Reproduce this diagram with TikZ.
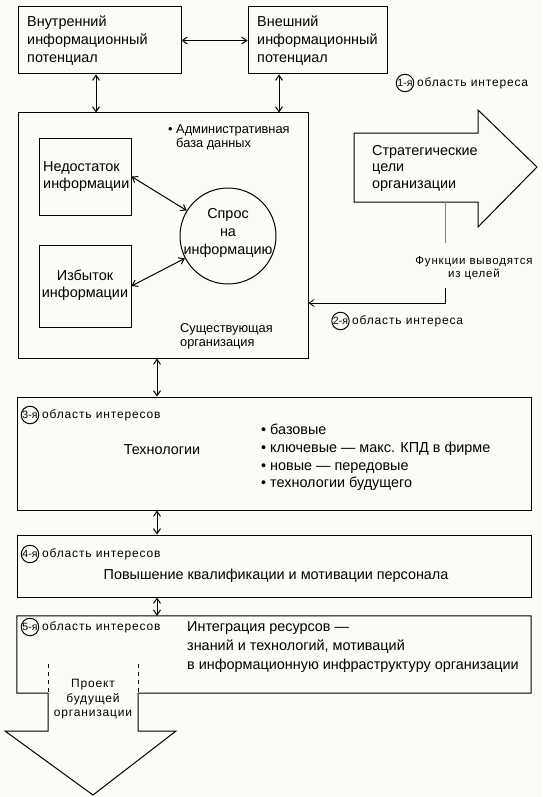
\documentclass[tikz,border=0pt]{standalone}
\usepackage{fontspec}
\setmainfont{Liberation Sans}
\newfontfamily\labfont[LetterSpace=7]{Liberation Sans}
\usetikzlibrary{calc,arrows,arrows.meta}

\definecolor{paper}{RGB}{252,252,246}

\tikzset{
  box/.style={draw, line width=1pt, inner sep=0pt},
  txt/.style={inner sep=0pt, align=left, font=\fontsize{14.4}{18}\selectfont},
  mid/.style={inner sep=0pt, align=left, anchor=west, font=\fontsize{12.8}{13.8}\selectfont},
  lab/.style={inner sep=0pt, anchor=west, font=\labfont\fontsize{12}{13}\selectfont},
  num/.style={draw, circle, line width=1pt, inner sep=0.3pt, minimum size=17pt, font=\fontsize{10.5}{11}\selectfont},
  link/.style={<->, >={Straight Barb[length=5pt,width=7pt]}, line width=1pt}
}

\begin{document}
\begin{tikzpicture}[x=1pt,y=-1pt]
                      \useasboundingbox (0,0) rectangle (542,797);
                      \fill[paper] (0,0) rectangle (542,797);
                      % information potential
                      \node[box, minimum width=163pt, minimum height=67pt] (inner) at (99.5,40.5) {};
                      \node[txt, anchor=west] (innertxt) at (27,41) {Внутренний\\информационный\\потенциал};
                      \node[box, minimum width=139pt, minimum height=67pt] (outer) at (317.5,40.5) {};
                      \node[txt, anchor=west] (outertxt) at (257,41) {Внешний\\информационный\\потенциал};
                      \draw[link] (inner.east) -- (outer.west);
                      \node[num] (n1) at (405,83) {1-я};
                      \node[lab] (n1txt) at (417,83) {область интереса};
                      % existing organization
                      \node[box, minimum width=290pt, minimum height=245pt] (org) at (163,235.5) {};
                      \draw[link] ([xshift=-3.5pt]inner.south) -- ([xshift=-3.5pt]inner.south |- org.north);
                      \draw[link] ([xshift=-38.5pt]outer.south) -- ([xshift=-38.5pt]outer.south |- org.north);
                      \node[mid] (adm) at (168,137.5) {• Административная\\\phantom{• }база данных};
                      \node[box, minimum width=92pt, minimum height=77pt] (lack) at (85,176.5) {};
                      \node[txt, anchor=west, font=\fontsize{14.4}{17}\selectfont] (lacktxt) at (43,176.5) {Недостаток\\информации};
                      \node[box, minimum width=92pt, minimum height=82pt] (excess) at (85,286) {};
                      \node[txt, align=center, font=\fontsize{14.4}{17}\selectfont] (excesstxt) at (85,285.5) {Избыток\\информации};
                      \node[box, circle, minimum size=96pt] (demand) at (228,236) {};
                      \node[txt, align=center] (demandtxt) at (228,233) {Спрос\\на\\информацию};
                      \draw[link] (lack.east) -- (demand);
                      \draw[link] (excess.east) -- (demand);
                      \node[mid] (exist) at (180,336) {Существующая\\организация};
                      % strategic goals
                      \draw[line width=1pt] (354,133) -- (478,133) -- (478,110) -- (537,167) -- (478,227) -- (478,202) -- (354,202) -- cycle;
                      \node[txt, anchor=west, font=\fontsize{14.4}{16.5}\selectfont] (strat) at (372,168) {Стратегические\\цели\\организации};
                      \coordinate (stratfoot) at (445,202);
                      \coordinate (fu) at (445,243);
                      \draw[gray, line width=0.6pt] (stratfoot) -- (fu);
                      \node[lab, anchor=center, align=center, font=\labfont\fontsize{11.5}{12.5}\selectfont] (funcs) at (474,268) {Функции выводятся\\из целей};
                      \coordinate (fd) at (445,288);
                      \coordinate (fcorner) at (445,303);
                      \draw[-{Straight Barb[length=5pt,width=7pt]}, line width=0.8pt] (fd) -- (fcorner) -- (fcorner -| org.east);
                      \node[num] (n2) at (340.5,321) {2-я};
                      \node[lab] (n2txt) at (352,321) {область интереса};
                      % technologies
                      \node[box, minimum width=514pt, minimum height=113pt] (tech) at (274,453.5) {};
                      \draw[link] ([xshift=-6pt]org.south) -- ([xshift=-6pt]org.south |- tech.north);
                      \node[num] (n3) at (30,415) {3-я};
                      \node[lab] (n3txt) at (42,415) {область интересов};
                      \node[txt] (techname) at (162,450) {Технологии};
                      \node[txt, anchor=west, font=\fontsize{14.4}{17.7}\selectfont] (techlist) at (261,457.5) {• базовые\\• ключевые — макс. КПД в фирме\\• новые — передовые\\• технологии будущего};
                      % staff
                      \node[box, minimum width=514pt, minimum height=62pt] (staff) at (274,566) {};
                      \draw[link] ([xshift=-117pt]tech.south) -- ([xshift=-117pt]tech.south |- staff.north);
                      \node[num] (n4) at (30,554) {4-я};
                      \node[lab] (n4txt) at (42,554) {область интересов};
                      \node[txt] (stafftxt) at (276,576) {Повышение квалификации и мотивации персонала};
                      % integration
                      \node[inner sep=0pt, minimum width=514pt, minimum height=77pt] (integ) at (274,654.5) {};
                      \draw[line width=1pt] (48,693) -- (integ.south west) -- (integ.north west) -- (integ.north east) -- (integ.south east) -- (138,693);
                      \draw[link] ([xshift=-117pt]staff.south) -- ([xshift=-117pt]staff.south |- integ.north);
                      \node[num] (n5) at (30,627) {5-я};
                      \node[lab] (n5txt) at (42,627) {область интересов};
                      \node[txt, anchor=west, font=\fontsize{14.4}{19}\selectfont] (integtxt) at (187,647) {Интеграция ресурсов —\\знаний и технологий, мотиваций\\в информационную инфраструктуру организации};
                      % future organization
                      \draw[line width=0.9pt, dash pattern=on 4pt off 4pt] (48,664) -- (48,693);
                      \draw[line width=0.9pt, dash pattern=on 4pt off 4pt] (138,664) -- (138,693);
                      \draw[line width=1pt] (48,693) -- (48,731) -- (5,731) -- (93,795) -- (176,731) -- (138,731) -- (138,693);
                      \node[lab, anchor=center, align=center, font=\labfont\fontsize{12}{14.5}\selectfont] (future) at (93,699.5) {Проект\\будущей\\организации};
                  \end{tikzpicture}
\end{document}
